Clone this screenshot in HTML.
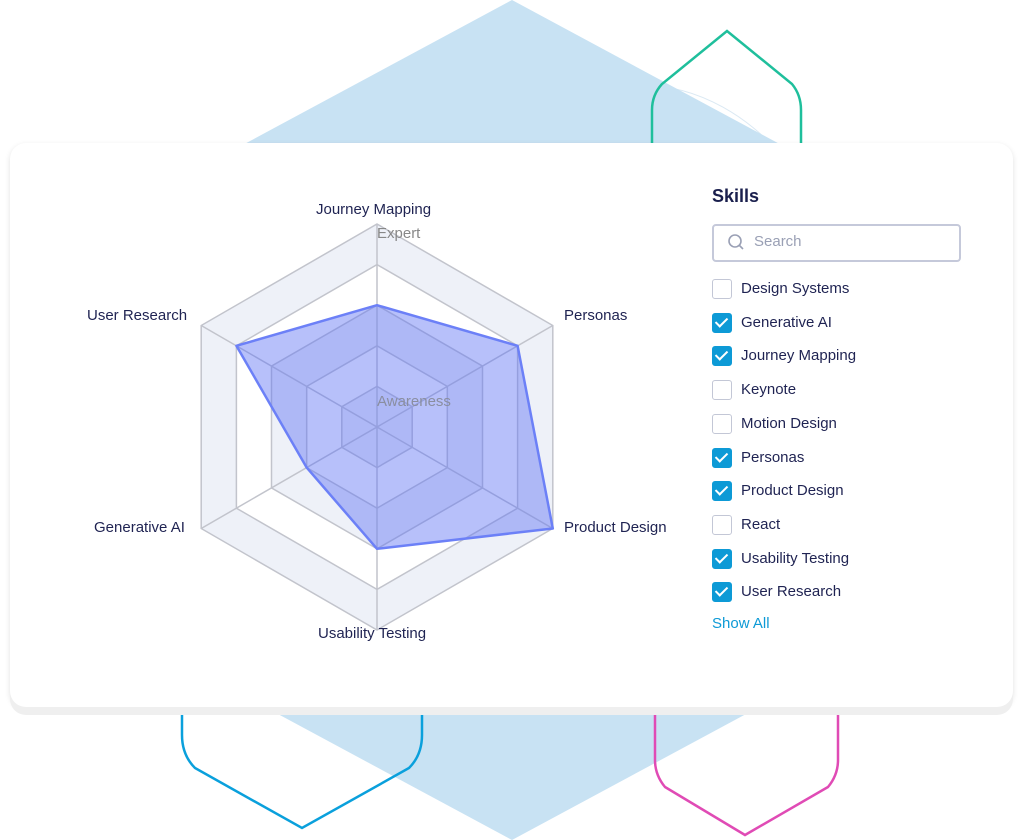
<!DOCTYPE html>
<html><head><meta charset="utf-8"><style>
body{margin:0;width:1024px;height:840px;background:#fff;position:relative;overflow:hidden;font-family:"Liberation Sans",sans-serif}
svg{position:absolute;left:0;top:0}
.card{position:absolute;left:10px;top:143px;width:1003px;height:564px;background:#fff;border-radius:16px;box-shadow:0 8px 0 #efefef,0 2px 6px rgba(0,0,0,.12)}
.t{position:absolute;font-size:15px;color:#1f2352;white-space:nowrap}
.cb{position:absolute;left:712px;width:18px;height:18px;border:1.5px solid #c3c7d6;border-radius:3px;background:#fff}
.cb.on{background:#0d9ad6;border-color:#0d9ad6}
.cb.on:after{content:"";position:absolute;left:5px;top:1px;width:5px;height:10px;border:solid #fff;border-width:0 2px 2px 0;transform:rotate(45deg)}
</style></head><body>
<svg width="1024" height="840">
<ellipse cx="330" cy="420" rx="165" ry="285" fill="none" stroke="#dbe9f3" stroke-width="1"/>
<ellipse cx="640" cy="400" rx="225" ry="315" fill="none" stroke="#dbe9f3" stroke-width="1"/>
<polygon points="512,0 800,155 800,685 512,840 224,685 224,155" fill="#c8e2f3"/>
<path d="M652,150 V110 Q652,95 662,84 L727,31 L792,84 Q801,95 801,110 V150" fill="none" stroke="#1fbf9c" stroke-width="2.5"/>
<path d="M182,700 V735 Q182,755 195,768 L302,828 L409,768 Q422,755 422,735 V700" fill="none" stroke="#0aa0dc" stroke-width="2.5"/>
<path d="M655,700 V760 Q655,775 665,787 L745,835 L828,787 Q838,775 838,760 V700" fill="none" stroke="#e04bb5" stroke-width="2.5"/>
</svg>
<div class="card"></div>
<svg width="1024" height="840">
<g stroke="#c2c4cc" stroke-width="1.5">
<polygon points="377,224 552.8,325.5 552.8,528.5 377,630 201.2,528.5 201.2,325.5" fill="#eef1f8"/>
<polygon points="377,264.6 517.6,345.8 517.6,508.2 377,589.4 236.4,508.2 236.4,345.8" fill="#fff"/>
<polygon points="377,305.2 482.5,366.1 482.5,487.9 377,548.8 271.5,487.9 271.5,366.1" fill="#eef1f8"/>
<polygon points="377,345.8 447.3,386.4 447.3,467.6 377,508.2 306.7,467.6 306.7,386.4" fill="#fff"/>
<polygon points="377,386.4 412.2,406.7 412.2,447.3 377,467.6 341.8,447.3 341.8,406.7" fill="#eef1f8"/>
<path d="M377,224V630M552.8,325.5L201.2,528.5M552.8,528.5L201.2,325.5" fill="none"/>
</g>
<polygon points="377,305.2 517.6,345.8 552.8,528.5 377,548.8 306.7,467.6 236.4,345.8" fill="rgba(95,115,245,0.45)" stroke="#6c80f7" stroke-width="2.5" stroke-linejoin="round"/>
<text x="377" y="238" font-size="15" fill="#888" font-family="Liberation Sans">Expert</text>
<text x="377" y="406" font-size="15" fill="#8a8ea0" font-family="Liberation Sans">Awareness</text>
<circle cx="735" cy="241" r="6" fill="none" stroke="#9aa0b5" stroke-width="1.6"/>
<line x1="739.5" y1="245.5" x2="743" y2="249" stroke="#9aa0b5" stroke-width="1.6"/>
</svg>
<div class="t" style="left:316px;top:201px">Journey Mapping</div>
<div class="t" style="left:564px;top:307px">Personas</div>
<div class="t" style="left:87px;top:307px">User Research</div>
<div class="t" style="left:564px;top:519px">Product Design</div>
<div class="t" style="left:94px;top:519px">Generative AI</div>
<div class="t" style="left:318px;top:625px">Usability Testing</div>
<div class="t" style="left:712px;top:186px;font-size:18px;font-weight:bold;color:#1a1f4d">Skills</div>
<div style="position:absolute;left:712px;top:224px;width:245px;height:34px;border:2px solid #c5c9da;border-radius:4px"></div>
<div class="t" style="left:754px;top:233px;color:#9aa0b5">Search</div>
<div class="cb" style="top:279px"></div><div class="t" style="left:741px;top:280px">Design Systems</div>
<div class="cb on" style="top:313px"></div><div class="t" style="left:741px;top:314px">Generative AI</div>
<div class="cb on" style="top:346px"></div><div class="t" style="left:741px;top:347px">Journey Mapping</div>
<div class="cb" style="top:380px"></div><div class="t" style="left:741px;top:381px">Keynote</div>
<div class="cb" style="top:414px"></div><div class="t" style="left:741px;top:415px">Motion Design</div>
<div class="cb on" style="top:448px"></div><div class="t" style="left:741px;top:449px">Personas</div>
<div class="cb on" style="top:481px"></div><div class="t" style="left:741px;top:482px">Product Design</div>
<div class="cb" style="top:515px"></div><div class="t" style="left:741px;top:516px">React</div>
<div class="cb on" style="top:549px"></div><div class="t" style="left:741px;top:550px">Usability Testing</div>
<div class="cb on" style="top:582px"></div><div class="t" style="left:741px;top:583px">User Research</div>
<div class="t" style="left:712px;top:615px;color:#0d9ad6">Show All</div>
</body></html>
